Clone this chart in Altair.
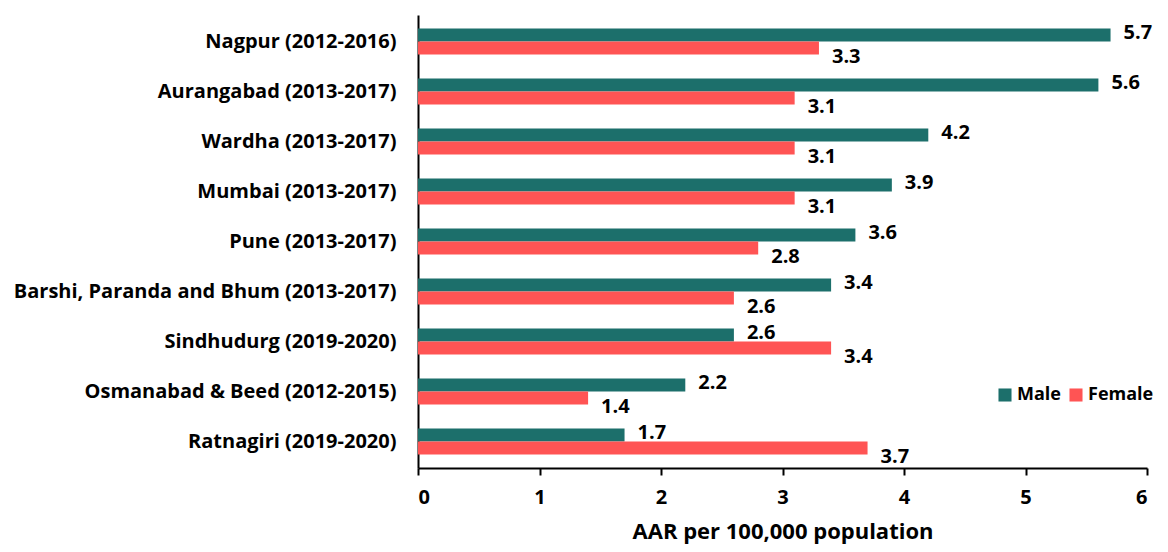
import altair as alt
import pandas as pd

regions = [
    "Nagpur (2012-2016)",
    "Aurangabad (2013-2017)",
    "Wardha (2013-2017)",
    "Mumbai (2013-2017)",
    "Pune (2013-2017)",
    "Barshi, Paranda and Bhum (2013-2017)",
    "Sindhudurg (2019-2020)",
    "Osmanabad & Beed (2012-2015)",
    "Ratnagiri (2019-2020)",
]
male = [5.7, 5.6, 4.2, 3.9, 3.6, 3.4, 2.6, 2.2, 1.7]
female = [3.3, 3.1, 3.1, 3.1, 2.8, 2.6, 3.4, 1.4, 3.7]
sexes = ["Male", "Female"]
colors = ["#1c6f6b", "#ff5454"]

rows = []
for r, m, f in zip(regions, male, female):
    rows.append({"region": r, "sex": "Male", "aar": m})
    rows.append({"region": r, "sex": "Female", "aar": f})
df = pd.DataFrame(rows)

FONT = "Open Sans"

y_enc = alt.Y(
    "region:N",
    sort=regions,
    title=None,
    scale=alt.Scale(paddingInner=0.48, paddingOuter=0.27),
    axis=alt.Axis(
        labelFontSize=20, labelFontWeight="bold", labelColor="#000000",
        labelFont=FONT, ticks=False, domainColor="#000000", domainWidth=2,
        labelPadding=22, labelLimit=600,
    ),
)
x_enc = alt.X(
    "aar:Q",
    title="AAR per 100,000 population",
    scale=alt.Scale(domain=[0, 6], nice=False),
    axis=alt.Axis(
        values=[0, 1, 2, 3, 4, 5, 6], format="d", grid=False,
        labelFontSize=20, labelFontWeight="bold", labelColor="#000000",
        labelFont=FONT, tickColor="#000000", tickSize=7, tickWidth=2,
        domainColor="#000000", domainWidth=2, labelPadding=12,
        titleFontSize=22, titleFontWeight="bold", titleColor="#000000",
        titleFont=FONT, titlePadding=14,
    ),
)

base = alt.Chart(df).encode(
    y=y_enc,
    yOffset=alt.YOffset("sex:N", sort=sexes),
)

bars = base.mark_bar().encode(
    x=x_enc,
    color=alt.Color(
        "sex:N",
        sort=sexes,
        scale=alt.Scale(domain=sexes, range=colors),
        legend=alt.Legend(
            title=None, orient="none", legendX=578, legendY=371,
            direction="horizontal", symbolType="square", symbolSize=170,
            labelFontSize=18, labelFontWeight="bold", labelColor="#000000",
            labelFont=FONT, columnPadding=6, symbolStrokeWidth=0,
            labelOffset=3,
        ),
    ),
)

def value_labels(sex, dy):
    return base.transform_filter(alt.datum.sex == sex).mark_text(
        align="left", baseline="middle", dx=13, dy=dy, fontSize=20,
        fontWeight="bold", font=FONT, color="#000000",
    ).encode(
        x="aar:Q",
        text=alt.Text("aar:Q", format=".1f"),
    )

chart = (
    alt.layer(bars, value_labels("Male", -2), value_labels("Female", 9))
    .properties(
        width=729, height=453,
        autosize=alt.AutoSizeParams(type="none"),
        padding={"left": 410, "top": 7, "right": 13, "bottom": 76},
    )
    .configure_view(stroke=None)
)

chart.save("out.html", embed_options={"renderer": "svg", "actions": False})
